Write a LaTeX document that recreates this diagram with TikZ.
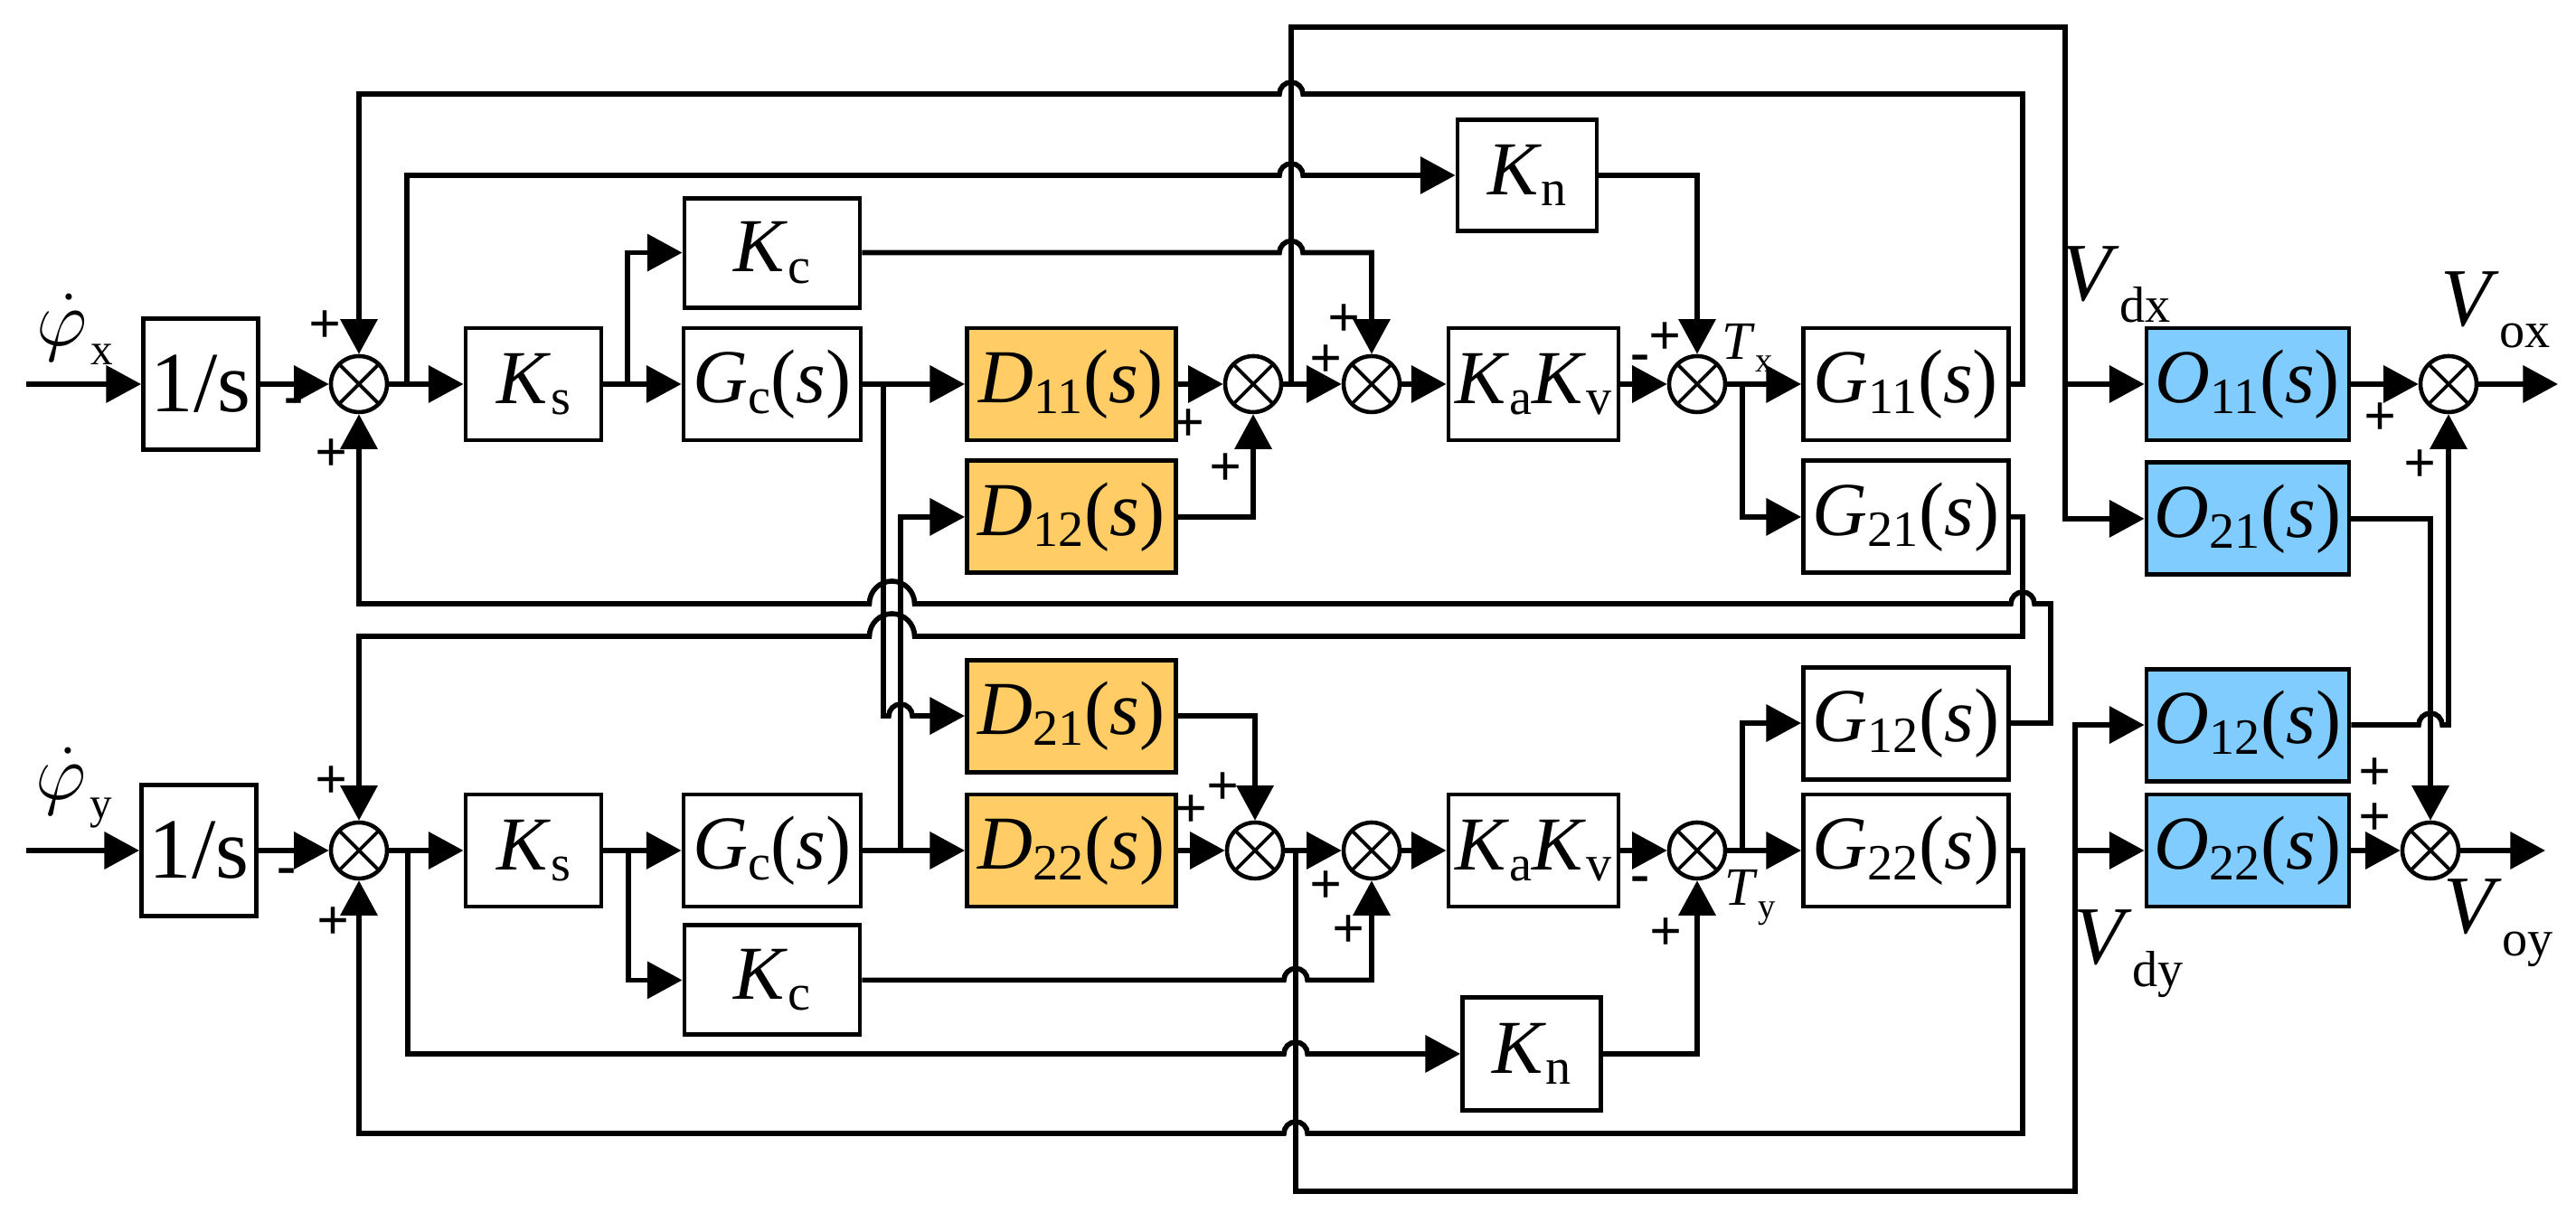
\documentclass[tikz,border=0pt]{standalone}
\usepackage{fontspec}
\setmainfont{Liberation Serif}
\usepackage{tikz}
\usetikzlibrary{calc,arrows.meta,positioning}

\definecolor{dorange}{RGB}{255,204,102}
\definecolor{oblue}{RGB}{128,204,255}

\newcommand{\tfx}[2]{\textit{#1}\raisebox{-3.5pt}{\fontsize{16}{16}\selectfont #2}}
\newcommand{\vlab}[2]{\textit{#1}\raisebox{-7pt}{\fontsize{16}{16}\selectfont #2}}
\newcommand{\hopr}[2]{-- ($(#1|-#2)+(-0.13,0)$) arc[start angle=180,end angle=0,radius=0.13]}
\newcommand{\hopl}[2]{-- ($(#1|-#2)+(0.13,0)$) arc[start angle=0,end angle=180,radius=0.13]}
\newcommand{\hoplw}[2]{-- ($(#1|-#2)+(0.25,0)$) arc[start angle=0,end angle=180,radius=0.25]}

\tikzset{
  blk/.style={draw,line width=1.4pt,inner sep=0pt,minimum height=1.24cm,font=\fontsize{24}{28}\selectfont},
  dblk/.style={blk,fill=dorange,minimum width=2.31cm},
  oblk/.style={blk,fill=oblue,minimum width=2.24cm},
  sumj/.style={circle,draw,line width=1.3pt,minimum size=6.2mm,inner sep=0pt,
    path picture={\draw[line width=1.1pt] (path picture bounding box.north west) -- (path picture bounding box.south east)
      (path picture bounding box.north east) -- (path picture bounding box.south west);}},
  sgn/.style={inner sep=0pt,font=\fontsize{18}{18}\bfseries\selectfont},
  lbl/.style={inner sep=0pt,font=\fontsize{26}{30}\selectfont},
  tlbl/.style={inner sep=0pt,font=\fontsize{17}{17}\selectfont},
  sig/.style={line width=1.6pt,-{Triangle[length=11pt,width=11.5pt]}}
}

\begin{document}
\begin{tikzpicture}
\useasboundingbox (0,0) rectangle (28.49,13.52);

\coordinate (inx) at (0.29,9.27);
\coordinate (iny) at (0.29,4.11);
\coordinate (outx) at (28.29,9.27);
\coordinate (outy) at (28.15,4.11);

\coordinate (jKnx) at (4.50,9.27);
\coordinate (jKcx) at (6.94,9.27);
\coordinate (jDx) at (9.77,9.27);
\coordinate (jVx) at (14.28,9.27);
\coordinate (jTx) at (19.27,9.27);
\coordinate (jKny) at (4.51,4.11);
\coordinate (jKcy) at (6.95,4.11);
\coordinate (jDy) at (9.96,4.11);
\coordinate (jVy) at (14.33,4.11);
\coordinate (jTy) at (19.27,4.11);
\coordinate (jDm) at (9.865,0);
\coordinate (cG1) at (22.37,0);
\coordinate (cG2) at (22.68,0);
\coordinate (cVx) at (22.84,0);
\coordinate (cVy) at (22.95,0);
\coordinate (lvTop) at (0,13.22);
\coordinate (lvFx) at (0,12.48);
\coordinate (lvA) at (0,6.84);
\coordinate (lvB) at (0,6.48);
\coordinate (lvFy) at (0,0.98);
\coordinate (lvBot) at (0,0.34);

\node[blk,minimum width=1.27cm,minimum height=1.45cm,font=\fontsize{27}{30}\selectfont] (isx) at (2.22,9.27) {1/s};
\node[sumj] (s1x) at (3.97,9.27) {};
\node[blk,minimum width=1.50cm] (ksx) at (5.90,9.27) {\tfx{K}{s}};
\node[blk,minimum width=1.96cm] (gcx) at (8.54,9.27) {\tfx{G}{c}(\textit{s})};
\node[blk,minimum width=1.94cm,minimum height=1.21cm,above=0.18cm of gcx] (kcx) {\tfx{K}{c}};
\node[dblk] (d11) at (11.85,9.27) {\tfx{D}{11}(\textit{s})};
\node[dblk,below=0.18cm of d11] (d12) {\tfx{D}{12}(\textit{s})};
\node[sumj] (s2x) at (13.86,9.27) {};
\node[sumj] (s3x) at (15.17,9.27) {};
\node[blk,minimum width=1.88cm] (kavx) at (16.96,9.27) {\tfx{K}{a}\tfx{K}{v}};
\node[blk,minimum width=1.54cm,minimum height=1.23cm] (knx) at (16.89,11.58) {\tfx{K}{n}};
\node[sumj] (s4x) at (18.77,9.27) {};
\node[blk,minimum width=2.27cm] (g11) at (21.08,9.27) {\tfx{G}{11}(\textit{s})};
\node[blk,minimum width=2.27cm,below=0.18cm of g11] (g21) {\tfx{G}{21}(\textit{s})};
\node[oblk] (o11) at (24.86,9.27) {\tfx{O}{11}(\textit{s})};
\node[oblk,below=0.2cm of o11] (o21) {\tfx{O}{21}(\textit{s})};
\node[sumj] (s5) at (27.08,9.27) {};

\node[blk,minimum width=1.27cm,minimum height=1.45cm,font=\fontsize{27}{30}\selectfont] (isy) at (2.20,4.11) {1/s};
\node[sumj] (s1y) at (3.97,4.11) {};
\node[blk,minimum width=1.50cm] (ksy) at (5.90,4.11) {\tfx{K}{s}};
\node[blk,minimum width=1.96cm] (gcy) at (8.54,4.11) {\tfx{G}{c}(\textit{s})};
\node[blk,minimum width=1.94cm,minimum height=1.21cm,below=0.16cm of gcy] (kcy) {\tfx{K}{c}};
\node[dblk] (d22) at (11.85,4.11) {\tfx{D}{22}(\textit{s})};
\node[dblk,above=0.2cm of d22] (d21) {\tfx{D}{21}(\textit{s})};
\node[sumj] (s2y) at (13.88,4.11) {};
\node[sumj] (s3y) at (15.17,4.11) {};
\node[blk,minimum width=1.88cm] (kavy) at (16.96,4.11) {\tfx{K}{a}\tfx{K}{v}};
\node[blk,minimum width=1.53cm,minimum height=1.25cm] (kny) at (16.94,1.86) {\tfx{K}{n}};
\node[sumj] (s4y) at (18.77,4.11) {};
\node[blk,minimum width=2.27cm] (g22) at (21.08,4.11) {\tfx{G}{22}(\textit{s})};
\node[blk,minimum width=2.27cm,above=0.12cm of g22] (g12) {\tfx{G}{12}(\textit{s})};
\node[oblk] (o22) at (24.86,4.11) {\tfx{O}{22}(\textit{s})};
\node[oblk,above=0.1cm of o22] (o12) {\tfx{O}{12}(\textit{s})};
\node[sumj] (s6) at (26.88,4.11) {};

\draw[sig] (inx) -- (isx.west);
\draw[sig] (isx.east) -- (s1x.west);
\draw[sig] (s1x.east) -- (ksx.west);
\draw[sig] (jKnx) -- (jKnx|-knx) \hopr{jVx}{knx} -- (knx.west);
\draw[sig] (ksx.east) -- (gcx.west);
\draw[sig] (jKcx) |- (kcx.west);
\draw[sig] (kcx.east) \hopr{jVx}{kcx} -| (s3x.north);
\draw[sig] (gcx.east) -- (d11.west);
\draw[sig] (jDx) -- (jDx|-d21) \hopr{jDy}{d21} -- (d21.west);
\draw[sig] (d11.east) -- (s2x.west);
\draw[sig] (d12.east) -| (s2x.south);
\draw[sig] (s2x.east) -- (s3x.west);
\draw[sig] (jVx) |- (lvTop -| cVx) |- (o21.west);
\draw[sig] (cVx|-o11) -- (o11.west);
\draw[sig] (s3x.east) -- (kavx.west);
\draw[sig] (kavx.east) -- (s4x.west);
\draw[sig] (knx.east) -| (s4x.north);
\draw[sig] (s4x.east) -- (g11.west);
\draw[sig] (jTx) |- (g21.west);
\draw[sig] (g11.east) -| (lvFx -| cG1) \hopl{jVx}{lvFx} -| (s1x.north);
\draw[sig] (g21.east) -| (lvB -| cG1) \hoplw{jDm}{lvB} -| (s1y.north);
\draw[sig] (g12.east) -| (lvA -| cG2) \hopl{cG1}{lvA} \hoplw{jDm}{lvA} -| (s1x.south);
\draw[sig] (g22.east) -| (lvFy -| cG1) \hopl{jVy}{lvFy} -| (s1y.south);

\draw[sig] (iny) -- (isy.west);
\draw[sig] (isy.east) -- (s1y.west);
\draw[sig] (s1y.east) -- (ksy.west);
\draw[sig] (jKny) -- (jKny|-kny) \hopr{jVy}{kny} -- (kny.west);
\draw[sig] (ksy.east) -- (gcy.west);
\draw[sig] (jKcy) |- (kcy.west);
\draw[sig] (kcy.east) \hopr{jVy}{kcy} -| (s3y.south);
\draw[sig] (gcy.east) -- (d22.west);
\draw[sig] (jDy) |- (d12.west);
\draw[sig] (d21.east) -| (s2y.north);
\draw[sig] (d22.east) -- (s2y.west);
\draw[sig] (s2y.east) -- (s3y.west);
\draw[sig] (jVy) |- (lvBot -| cVy) |- (o12.west);
\draw[sig] (cVy|-o22) -- (o22.west);
\draw[sig] (s3y.east) -- (kavy.west);
\draw[sig] (kavy.east) -- (s4y.west);
\draw[sig] (kny.east) -| (s4y.south);
\draw[sig] (s4y.east) -- (g22.west);
\draw[sig] (jTy) |- (g12.west);

\draw[sig] (o11.east) -- (s5.west);
\draw[sig] (o21.east) -| (s6.north);
\draw[sig] (o12.east) \hopr{s6}{o12} -| (s5.south);
\draw[sig] (o22.east) -- (s6.west);
\draw[sig] (s5.east) -- (outx);
\draw[sig] (s6.east) -- (outy);

\node[sgn] (pa1) at (3.60,9.90) {+};
\node[sgn] (ma1) at (3.25,9.02) {-};
\node[sgn] (pa2) at (3.67,8.48) {+};
\node[sgn] (pa3) at (13.15,8.81) {+};
\node[sgn] (pa4) at (13.56,8.32) {+};
\node[sgn] (pa5) at (14.67,9.52) {+};
\node[sgn] (pa6) at (14.87,9.97) {+};
\node[sgn] (ma2) at (18.14,9.50) {-};
\node[sgn] (pa7) at (18.41,9.77) {+};
\node[sgn] (pa8) at (26.32,8.88) {+};
\node[sgn] (pa9) at (26.76,8.36) {+};

\node[sgn] (pb1) at (3.67,4.86) {+};
\node[sgn] (mb1) at (3.17,3.82) {-};
\node[sgn] (pb2) at (3.69,3.30) {+};
\node[sgn] (pb3) at (13.53,4.79) {+};
\node[sgn] (pb4) at (13.18,4.54) {+};
\node[sgn] (pb5) at (14.67,3.70) {+};
\node[sgn] (pb6) at (14.92,3.21) {+};
\node[sgn] (mb2) at (18.14,3.73) {-};
\node[sgn] (pb7) at (18.43,3.18) {+};
\node[sgn] (pb8) at (26.26,4.95) {+};
\node[sgn] (pb9) at (26.26,4.45) {+};

\node[lbl] (phx) at (0.83,9.88) {$\dot{\varphi}$\kern1pt\raisebox{-6pt}{\fontsize{14}{14}\selectfont x}};
\node[lbl] (phy) at (0.82,4.80) {$\dot{\varphi}$\kern1pt\raisebox{-6pt}{\fontsize{14}{14}\selectfont y}};
\node[tlbl] (tx) at (19.33,9.67) {\textit{T}\raisebox{-4pt}{\fontsize{11}{11}\selectfont x}};
\node[tlbl] (ty) at (19.36,3.59) {\textit{T}\raisebox{-4pt}{\fontsize{11}{11}\selectfont y}};
\node[lbl] (vdx) at (23.40,10.37) {\vlab{V}{dx}};
\node[lbl] (vox) at (27.60,10.09) {\vlab{V}{ox}};
\node[lbl] (vdy) at (23.54,2.97) {\vlab{V}{dy}};
\node[lbl] (voy) at (27.63,3.31) {\vlab{V}{oy}};

\end{tikzpicture}
\end{document}
